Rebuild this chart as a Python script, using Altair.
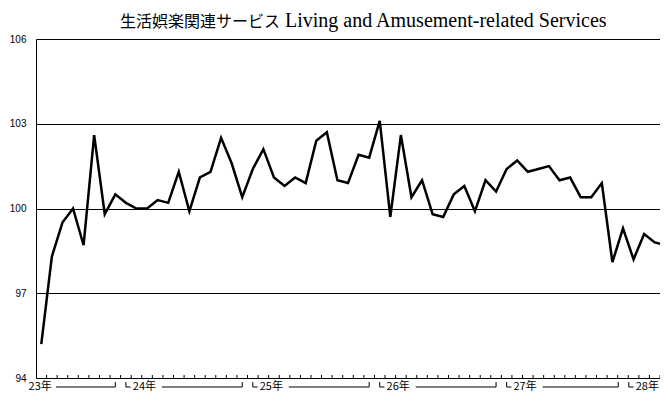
import altair as alt
import pandas as pd

# Months: April 2011 (平成23年4月) .. March 2016 (平成28年3月)
months = pd.date_range("2011-04-01", periods=60, freq="MS").strftime("%Y-%m").tolist()

values = [95.2, 98.3, 99.5, 100.0, 98.7, 102.6, 99.8, 100.5, 100.2, 100.0,
          100.0, 100.3, 100.2, 101.3, 99.9, 101.1, 101.3, 102.5, 101.6, 100.4,
          101.4, 102.1, 101.1, 100.8, 101.1, 100.9, 102.4, 102.7, 101.0, 100.9,
          101.9, 101.8, 103.1, 99.7, 102.6, 100.4, 101.0, 99.8, 99.7, 100.5,
          100.8, 99.9, 101.0, 100.6, 101.4, 101.7, 101.3, 101.4, 101.5, 101.0,
          101.1, 100.4, 100.4, 100.9, 98.1, 99.3, 98.2, 99.1, 98.8, 98.7]

years = ["23年", "24年", "25年", "26年", "27年", "28年"]
yticks = [94, 97, 100, 103, 106]

title_jp = "生活娯楽関連サービス"
title_en = "Living and Amusement-related Services"

n = len(values)
W, H = 624, 339

df = pd.DataFrame({"i": list(range(n)), "month": months, "value": values})
jan = [k for k, m in enumerate(months) if m.endswith("-01")]

xscale = alt.Scale(domain=[-0.5, 58.5], nice=False, zero=False)
yscale = alt.Scale(domain=[94, 106], nice=False, zero=False)

line = alt.Chart(df).mark_line(color="black", strokeWidth=2.5, strokeJoin="miter",
                               clip=True).encode(
    x=alt.X("i:Q", scale=xscale, axis=None),
    y=alt.Y("value:Q", scale=yscale,
            axis=alt.Axis(values=yticks, grid=True, gridColor="black", gridWidth=1,
                          domain=True, domainColor="black", domainWidth=1,
                          ticks=False, tickSize=0, labelPadding=10,
                          labelFont="Liberation Sans", labelFontSize=10,
                          labelColor="black", title=None)),
)

bounds = pd.DataFrame({"b": [k - 0.5 for k in range(1, n)]})
mticks = alt.Chart(bounds).mark_rule(color="black", strokeWidth=1, clip=True).encode(
    x=alt.X("b:Q", scale=xscale),
    y=alt.value(H), y2=alt.value(H - 3),
)

# year-bracket anchors (month-index units); the last one is nudged left so it fits
shift = [0.0] * (len(jan) - 1) + [0.45]
corner = [j - 1 - s for j, s in zip(jan, shift)]
LY = H + 9
lab_df = pd.DataFrame({"x": [-1.2] + [c + 0.65 for c in corner], "t": years})
labels = alt.Chart(lab_df).mark_text(align="left", baseline="middle",
                                     font="Noto Sans CJK JP", fontSize=11,
                                     color="black").encode(
    x=alt.X("x:Q", scale=xscale), y=alt.value(LY), text="t:N")

starts = [1.4] + [c + 3.4 for c in corner[:-1]]
ends = [c - 1 for c in corner]
hseg = pd.DataFrame({"x": starts + corner,
                     "x2": ends + [c + 0.45 for c in corner]})
vseg = pd.DataFrame({"x": ends + corner})

hrules = alt.Chart(hseg).mark_rule(color="black", strokeWidth=1).encode(
    x=alt.X("x:Q", scale=xscale), x2="x2:Q", y=alt.value(LY))
vrules = alt.Chart(vseg).mark_rule(color="black", strokeWidth=1).encode(
    x=alt.X("x:Q", scale=xscale), y=alt.value(LY - 5), y2=alt.value(LY))

t1 = alt.Chart(pd.DataFrame({"t": [title_jp]})).mark_text(
    align="left", baseline="alphabetic", font="Noto Sans CJK JP", fontSize=16,
    color="black").encode(x=alt.value(84), y=alt.value(-12), text="t:N")
t2 = alt.Chart(pd.DataFrame({"t": [title_en]})).mark_text(
    align="left", baseline="alphabetic", font="Liberation Serif", fontSize=20,
    color="black").encode(x=alt.value(249), y=alt.value(-12), text="t:N")

chart = alt.layer(line, mticks, labels, hrules, vrules, t1, t2).properties(
    width=W, height=H,
    autosize=alt.AutoSizeParams(type="none"),
    padding={"left": 28, "top": 31, "right": 0, "bottom": 15},
).configure_view(stroke=None).configure(background="white")

chart.save("out.html", embed_options={"renderer": "svg", "actions": False})
